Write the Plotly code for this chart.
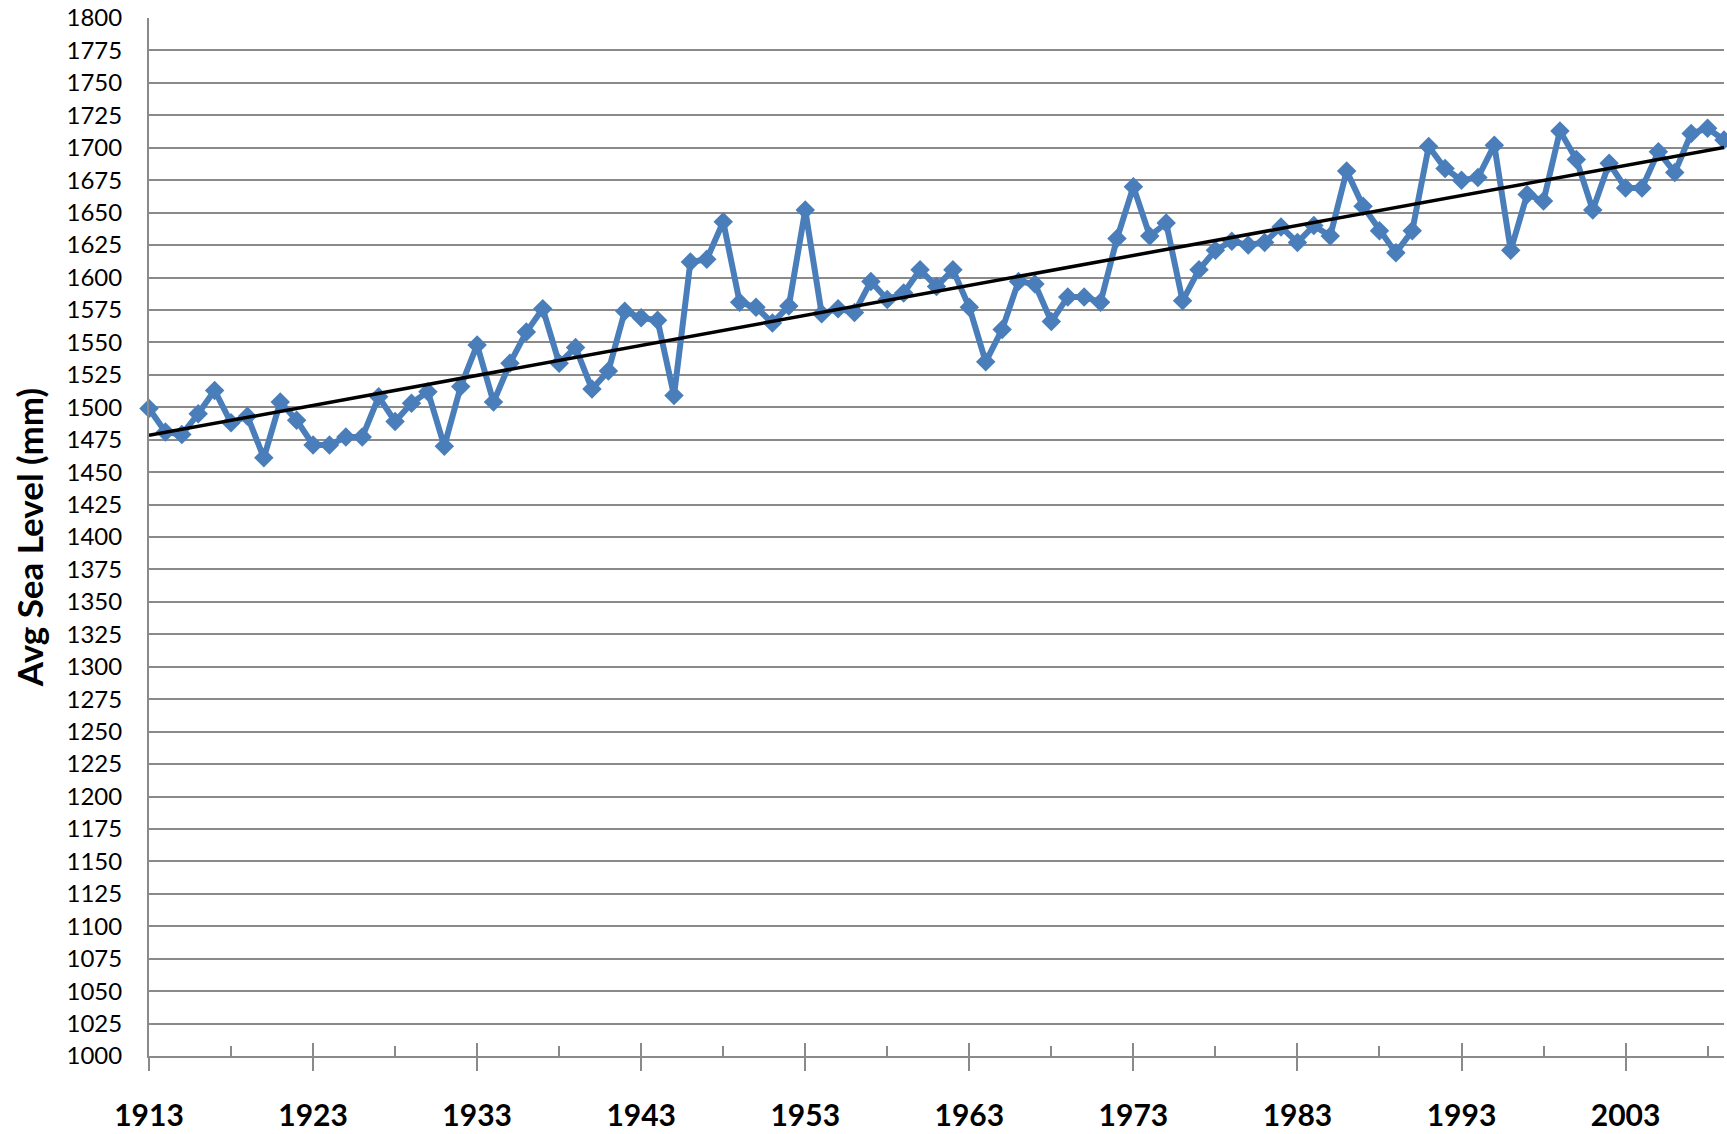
import numpy as np
import plotly.graph_objects as go

years = list(range(1913, 2010))
sea_level = [
    1499, 1481, 1479, 1495, 1513, 1488, 1493, 1461, 1504, 1490,  # 1913-1922
    1471, 1471, 1477, 1477, 1508, 1489, 1503, 1512, 1470, 1516,  # 1923-1932
    1548, 1504, 1534, 1558, 1576, 1534, 1546, 1514, 1528, 1574,  # 1933-1942
    1569, 1567, 1509, 1612, 1614, 1643, 1581, 1577, 1565, 1578,  # 1943-1952
    1652, 1572, 1576, 1573, 1597, 1583, 1588, 1606, 1593, 1606,  # 1953-1962
    1577, 1535, 1560, 1597, 1595, 1566, 1585, 1585, 1581, 1630,  # 1963-1972
    1670, 1632, 1642, 1582, 1606, 1621, 1628, 1625, 1627, 1639,  # 1973-1982
    1627, 1640, 1632, 1682, 1655, 1636, 1619, 1636, 1701, 1684,  # 1983-1992
    1675, 1677, 1702, 1621, 1664, 1659, 1713, 1691, 1652, 1688,  # 1993-2002
    1669, 1669, 1697, 1681, 1711, 1715, 1706,                    # 2003-2009
]
y_ticks = list(range(1000, 1801, 25))
x_ticks = list(range(1913, 2010, 10))

slope, intercept = np.polyfit(years, sea_level, 1)
trend = [slope * yr + intercept for yr in years]

font_family = "Lato, 'Open Sans', 'DejaVu Sans', sans-serif"
grid_col = "#8a8a8a"

fig = go.Figure()
fig.add_trace(go.Scatter(
    x=years, y=sea_level, mode="lines+markers",
    line=dict(color="#4A7EBB", width=6),
    marker=dict(symbol="diamond", size=15, color="#4A7EBB"),
    showlegend=False, cliponaxis=False,
))
fig.add_trace(go.Scatter(
    x=years, y=trend, mode="lines",
    line=dict(color="black", width=3.5),
    showlegend=False,
))
# invisible trace on overlay axis for inner major tick marks
fig.add_trace(go.Scatter(x=[years[0], years[-1]], y=[1000, 1000], xaxis="x2",
                         mode="lines", line=dict(width=0), hoverinfo="skip",
                         showlegend=False))

fig.update_layout(
    width=1727, height=1134,
    margin=dict(l=149, r=3, t=18, b=78, autoexpand=False),
    paper_bgcolor="white", plot_bgcolor="white",
    font=dict(family=font_family, color="black"),
    xaxis=dict(
        range=[1913, 2009], tickmode="array", tickvals=x_ticks,
        ticktext=[str(v) for v in x_ticks],
        ticks="outside", ticklen=13, tickwidth=2, tickcolor=grid_col,
        minor=dict(ticks="inside", ticklen=10, tickwidth=2, tickcolor=grid_col,
                   tickmode="array", tickvals=[v + 5 for v in x_ticks]),
        showline=True, linecolor=grid_col, linewidth=2,
        showgrid=False, zeroline=False, automargin=False,
        tickfont=dict(size=30, family=font_family, weight="bold"),
        ticklabelstandoff=19,
    ),
    xaxis2=dict(
        overlaying="x", range=[1913, 2009], tickmode="array", tickvals=x_ticks,
        ticks="inside", ticklen=13, tickwidth=2, tickcolor=grid_col,
        showticklabels=False, showgrid=False, zeroline=False, showline=False,
        anchor="y", side="bottom", automargin=False,
    ),
    yaxis=dict(
        range=[1000, 1800], tickmode="array", tickvals=y_ticks,
        showgrid=True, gridcolor=grid_col, gridwidth=2,
        showline=True, linecolor=grid_col, linewidth=2,
        ticks="", zeroline=False, automargin=False,
        tickfont=dict(size=24, family=font_family),
        ticklabelstandoff=20,
        title=dict(text="<b>Avg Sea Level (mm)</b>", font=dict(size=35, family=font_family),
                   standoff=12),
    ),
)

fig.write_html("out.html", config={"displayModeBar": False},
               post_script="document.body.style.margin='0';")
